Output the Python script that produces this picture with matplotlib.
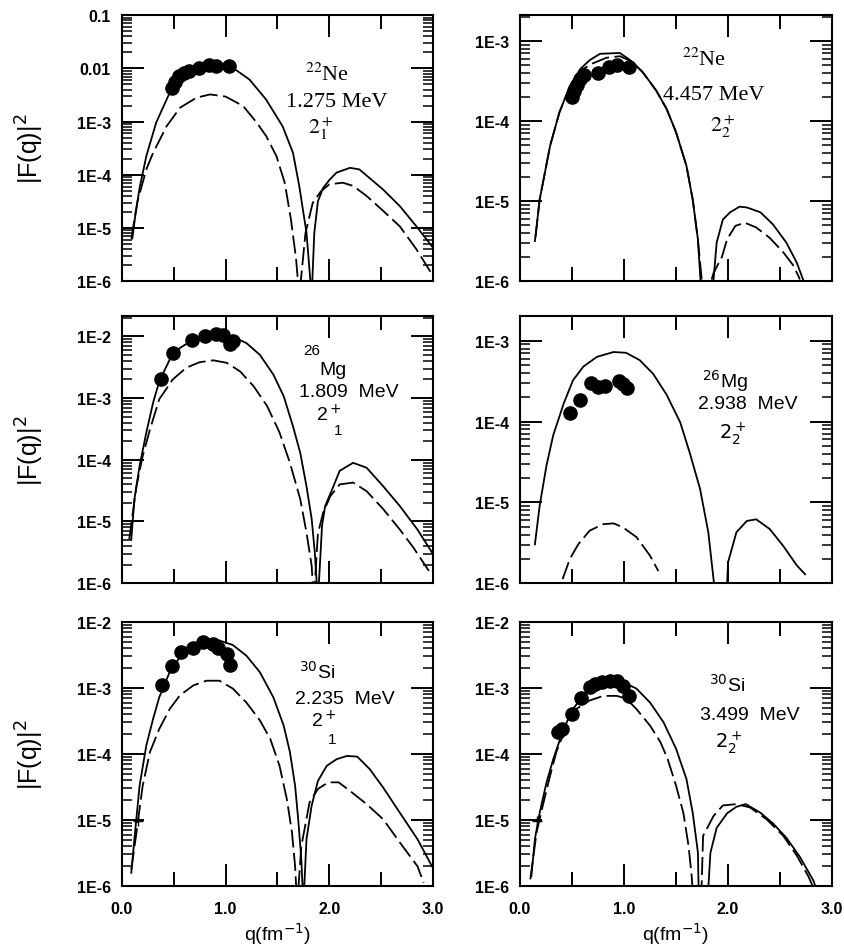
import numpy as np
import matplotlib
matplotlib.use("Agg")
import matplotlib.pyplot as plt
from matplotlib.ticker import LogLocator, NullFormatter, FixedLocator

# values; lg_* are log10 of |F(q)|^2
# --- 22Ne 1.275 MeV
q_ne1_sol = [0.10, 0.13, 0.17, 0.235, 0.33, 0.46, 0.59, 0.75, 0.91, 1.07, 1.23, 1.39, 1.55, 1.65,
             1.71, 1.78, 1.83, 1.855, 1.89, 1.94, 2.0, 2.07, 2.2, 2.29, 2.52, 2.68, 2.84, 3.0]
lg_ne1_sol = [-5.2, -4.75, -4.25, -3.65, -3.02, -2.46, -2.15, -1.99, -1.93, -1.99, -2.21, -2.585, -3.09, -3.59,
              -4.21, -5.09, -6.3, -5.1, -4.5, -4.25, -4.1, -3.96, -3.87, -3.90, -4.28, -4.59, -4.97, -5.37]
q_ne1_das = [0.09, 0.15, 0.235, 0.30, 0.43, 0.56, 0.72, 0.85, 1.0, 1.17, 1.30, 1.39, 1.49, 1.57, 1.63,
             1.68, 1.71, 1.77, 1.84, 1.92, 2.0, 2.13, 2.23, 2.36, 2.52, 2.68, 2.84, 2.98]
lg_ne1_das = [-5.2, -4.5, -3.9, -3.59, -3.09, -2.74, -2.55, -2.49, -2.53, -2.71, -3.02, -3.27, -3.65, -4.15, -4.84,
              -5.59, -6.3, -5.1, -4.53, -4.31, -4.18, -4.15, -4.21, -4.40, -4.68, -4.97, -5.40, -5.84]
q_ne1_exp = [0.48, 0.51, 0.55, 0.60, 0.65, 0.74, 0.84, 0.91, 1.03]
lg_ne1_exp = [-2.36, -2.26, -2.15, -2.09, -2.05, -1.99, -1.93, -1.95, -1.95]

# --- 22Ne 4.457 MeV
q_ne2_sol = [0.144, 0.19, 0.29, 0.38, 0.48, 0.58, 0.67, 0.77, 0.96, 1.06, 1.18, 1.31, 1.41, 1.50, 1.60, 1.66,
             1.71, 1.75, 1.84, 1.89, 1.95, 2.02, 2.11, 2.18, 2.31, 2.43, 2.56, 2.66, 2.72]
lg_ne2_sol = [-5.5, -4.98, -4.31, -3.89, -3.56, -3.35, -3.24, -3.16, -3.15, -3.24, -3.39, -3.62, -3.85, -4.14, -4.56, -4.98,
              -5.48, -6.3, -6.3, -5.52, -5.23, -5.14, -5.07, -5.08, -5.14, -5.29, -5.52, -5.77, -5.98]
q_ne2_das = [0.15, 0.19, 0.29, 0.38, 0.48, 0.58, 0.70, 0.83, 0.96, 1.08, 1.18, 1.31, 1.41, 1.50, 1.60, 1.66,
             1.71, 1.77, 1.86, 1.94, 1.99, 2.07, 2.16, 2.27, 2.40, 2.53, 2.63, 2.69]
lg_ne2_das = [-5.45, -4.98, -4.31, -3.89, -3.58, -3.37, -3.28, -3.21, -3.19, -3.26, -3.39, -3.62, -3.85, -4.14, -4.56, -4.98,
              -5.48, -6.3, -5.9, -5.7, -5.48, -5.31, -5.27, -5.33, -5.46, -5.64, -5.81, -5.98]
q_ne2_exp = [0.50, 0.52, 0.55, 0.58, 0.62, 0.75, 0.86, 0.93, 1.05]
lg_ne2_exp = [-3.70, -3.62, -3.55, -3.48, -3.42, -3.40, -3.32, -3.30, -3.32]

# --- 26Mg 1.809 MeV
q_mg1_sol = [0.09, 0.12, 0.17, 0.235, 0.30, 0.36, 0.46, 0.56, 0.69, 0.815, 0.94, 1.07, 1.20, 1.33, 1.46, 1.56,
             1.65, 1.72, 1.78, 1.83, 1.86, 1.89, 1.93, 1.96, 2.04, 2.10, 2.23, 2.36, 2.52, 2.68, 2.85, 2.99]
lg_mg1_sol = [-5.29, -4.64, -4.10, -3.56, -3.08, -2.73, -2.38, -2.19, -2.05, -1.99, -1.97, -2.01, -2.11, -2.30, -2.62, -2.97,
              -3.46, -3.89, -4.43, -4.96, -5.50, -6.3, -5.07, -4.75, -4.43, -4.18, -4.05, -4.13, -4.43, -4.75, -5.13, -5.50]
q_mg1_das = [0.07, 0.14, 0.20, 0.27, 0.36, 0.49, 0.62, 0.75, 0.88, 1.01, 1.14, 1.27, 1.40, 1.52, 1.62, 1.72,
             1.78, 1.83, 1.85, 1.89, 1.94, 2.01, 2.10, 2.23, 2.36, 2.52, 2.68, 2.81, 2.96]
lg_mg1_das = [-5.29, -4.43, -3.94, -3.51, -3.02, -2.70, -2.51, -2.42, -2.39, -2.43, -2.57, -2.81, -3.13, -3.56, -4.05, -4.64,
              -5.18, -5.72, -6.3, -5.2, -4.86, -4.59, -4.40, -4.37, -4.51, -4.80, -5.13, -5.42, -5.80]
q_mg1_exp = [0.38, 0.49, 0.68, 0.80, 0.91, 0.97, 1.04, 1.07]
lg_mg1_exp = [-2.69, -2.27, -2.06, -1.99, -1.97, -1.98, -2.12, -2.07]

# --- 26Mg 2.938 MeV
q_mg2_sol = [0.144, 0.19, 0.256, 0.32, 0.42, 0.51, 0.61, 0.74, 0.90, 1.02, 1.15, 1.28, 1.41, 1.54, 1.63, 1.73,
             1.81, 1.86, 1.89, 1.98, 2.0, 2.08, 2.18, 2.27, 2.40, 2.53, 2.66, 2.74]
lg_mg2_sol = [-5.52, -5.04, -4.54, -4.17, -3.78, -3.49, -3.32, -3.20, -3.14, -3.15, -3.24, -3.41, -3.67, -4.01, -4.38, -4.83,
              -5.37, -5.95, -6.3, -6.3, -5.74, -5.37, -5.23, -5.21, -5.33, -5.54, -5.78, -5.89]
q_mg2_das = [0.41, 0.48, 0.56, 0.67, 0.80, 0.90, 0.99, 1.12, 1.25, 1.33]
lg_mg2_das = [-5.95, -5.70, -5.52, -5.35, -5.27, -5.26, -5.31, -5.43, -5.66, -5.85]
q_mg2_exp = [0.48, 0.58, 0.68, 0.75, 0.82, 0.95, 0.99, 1.03]
lg_mg2_exp = [-3.90, -3.73, -3.52, -3.57, -3.56, -3.50, -3.53, -3.58]

# --- 30Si 2.235 MeV
q_si1_sol = [0.09, 0.12, 0.17, 0.235, 0.30, 0.36, 0.46, 0.56, 0.69, 0.815, 0.94, 1.07, 1.20, 1.33, 1.46, 1.56,
             1.62, 1.67, 1.70, 1.73, 1.75, 1.78, 1.83, 1.89, 1.975, 2.07, 2.17, 2.27, 2.39, 2.52, 2.68, 2.85, 2.99]
lg_si1_sol = [-5.80, -5.29, -4.48, -3.87, -3.47, -3.14, -2.76, -2.53, -2.35, -2.26, -2.28, -2.35, -2.51, -2.76, -3.14, -3.57,
              -3.97, -4.48, -4.99, -5.59, -6.3, -5.29, -4.78, -4.41, -4.18, -4.08, -4.03, -4.04, -4.23, -4.51, -4.89, -5.29, -5.70]
q_si1_das = [0.09, 0.14, 0.20, 0.27, 0.36, 0.46, 0.56, 0.69, 0.815, 0.94, 1.07, 1.20, 1.33, 1.43, 1.52, 1.59,
             1.64, 1.67, 1.69, 1.73, 1.81, 1.89, 1.99, 2.09, 2.20, 2.36, 2.52, 2.68, 2.85, 2.91]
lg_si1_das = [-5.75, -5.19, -4.48, -3.97, -3.62, -3.32, -3.11, -2.96, -2.89, -2.89, -3.01, -3.22, -3.49, -3.77, -4.18, -4.68,
              -5.19, -5.70, -6.3, -5.40, -4.73, -4.53, -4.43, -4.43, -4.56, -4.76, -4.99, -5.34, -5.70, -5.95]
q_si1_exp = [0.39, 0.48, 0.57, 0.69, 0.78, 0.88, 0.93, 1.01, 1.04]
lg_si1_exp = [-2.95, -2.67, -2.46, -2.39, -2.30, -2.34, -2.40, -2.48, -2.65]

# --- 30Si 3.499 MeV
q_si2_sol = [0.11, 0.144, 0.19, 0.256, 0.32, 0.42, 0.51, 0.61, 0.74, 0.865, 0.99, 1.12, 1.25, 1.38, 1.50, 1.60,
             1.66, 1.71, 1.72, 1.80, 1.83, 1.89, 1.99, 2.08, 2.17, 2.31, 2.43, 2.56, 2.69, 2.82, 2.86]
lg_si2_sol = [-5.85, -5.29, -4.89, -4.43, -4.08, -3.62, -3.32, -3.11, -2.95, -2.89, -2.91, -3.01, -3.22, -3.52, -3.92, -4.38,
              -4.89, -5.49, -6.3, -6.3, -5.5, -5.12, -4.90, -4.80, -4.76, -4.89, -5.05, -5.27, -5.56, -5.92, -6.1]
q_si2_das = [0.10, 0.16, 0.22, 0.29, 0.35, 0.45, 0.54, 0.67, 0.80, 0.93, 1.02, 1.12, 1.25, 1.35, 1.42, 1.50,
             1.57, 1.62, 1.65, 1.67, 1.74, 1.76, 1.86, 1.95, 2.08, 2.21, 2.37, 2.53, 2.66, 2.77, 2.84]
lg_si2_das = [-5.9, -5.19, -4.78, -4.33, -3.97, -3.57, -3.32, -3.19, -3.12, -3.12, -3.16, -3.32, -3.57, -3.82, -4.08, -4.48,
              -4.89, -5.39, -5.85, -6.3, -6.3, -5.24, -4.94, -4.78, -4.76, -4.81, -4.99, -5.24, -5.54, -5.85, -6.1]
q_si2_exp = [0.37, 0.40, 0.50, 0.59, 0.67, 0.72, 0.79, 0.87, 0.93, 0.99, 1.05]
lg_si2_exp = [-3.66, -3.62, -3.40, -3.15, -2.98, -2.94, -2.91, -2.90, -2.90, -2.97, -3.12]

# small crosses near 1E-5 in the bottom panels
q_cross = [0.155, 0.167]
lg_cross = [-5.01, -5.01]

panels = [
    dict(sol=(q_ne1_sol, lg_ne1_sol), das=(q_ne1_das, lg_ne1_das), exp=(q_ne1_exp, lg_ne1_exp),
         top=0.1, ticks=[1e-6, 1e-5, 1e-4, 1e-3, 1e-2, 1e-1],
         labels=['1E-6', '1E-5', '1E-4', '1E-3', '0.01', '0.1']),
    dict(sol=(q_ne2_sol, lg_ne2_sol), das=(q_ne2_das, lg_ne2_das), exp=(q_ne2_exp, lg_ne2_exp),
         top=2.1e-3, ticks=[1e-6, 1e-5, 1e-4, 1e-3], labels=['1E-6', '1E-5', '1E-4', '1E-3']),
    dict(sol=(q_mg1_sol, lg_mg1_sol), das=(q_mg1_das, lg_mg1_das), exp=(q_mg1_exp, lg_mg1_exp),
         top=2.1e-2, ticks=[1e-6, 1e-5, 1e-4, 1e-3, 1e-2], labels=['1E-6', '1E-5', '1E-4', '1E-3', '1E-2']),
    dict(sol=(q_mg2_sol, lg_mg2_sol), das=(q_mg2_das, lg_mg2_das), exp=(q_mg2_exp, lg_mg2_exp),
         top=2.0e-3, ticks=[1e-6, 1e-5, 1e-4, 1e-3], labels=['1E-6', '1E-5', '1E-4', '1E-3']),
    dict(sol=(q_si1_sol, lg_si1_sol), das=(q_si1_das, lg_si1_das), exp=(q_si1_exp, lg_si1_exp),
         top=1e-2, ticks=[1e-6, 1e-5, 1e-4, 1e-3, 1e-2], labels=['1E-6', '1E-5', '1E-4', '1E-3', '1E-2']),
    dict(sol=(q_si2_sol, lg_si2_sol), das=(q_si2_das, lg_si2_das), exp=(q_si2_exp, lg_si2_exp),
         top=1e-2, ticks=[1e-6, 1e-5, 1e-4, 1e-3, 1e-2], labels=['1E-6', '1E-5', '1E-4', '1E-3', '1E-2']),
]

rects = [[0.1445, 0.704, 0.3685, 0.279], [0.616, 0.704, 0.370, 0.279],
         [0.1445, 0.387, 0.3685, 0.280], [0.616, 0.387, 0.370, 0.280],
         [0.1445, 0.0693, 0.3685, 0.277], [0.616, 0.0693, 0.370, 0.277]]

fig = plt.figure(figsize=(8.44, 9.53), dpi=100)
tickfont = dict(family='Liberation Sans', weight='bold', size=11.5)
axs = []
for i, (p, r) in enumerate(zip(panels, rects)):
    ax = fig.add_axes(r)
    axs.append(ax)
    ax.set_yscale('log')
    q, lg = p['sol']
    ax.plot(q, 10.0 ** np.array(lg), color='black', lw=1.3)
    q, lg = p['das']
    ax.plot(q, 10.0 ** np.array(lg), color='black', lw=1.3, dashes=(10, 3))
    q, lg = p['exp']
    ax.plot(q, 10.0 ** np.array(lg), 'o', color='black', ms=9.5)
    if i >= 4:
        ax.plot(q_cross[i - 4], 10.0 ** lg_cross[i - 4], '+', color='black', ms=7, mew=1)
    ax.set_xlim(0, 3)
    ax.set_ylim(1e-6, p['top'])
    ax.xaxis.set_major_locator(FixedLocator([0, 1.0, 2.0, 3.0]))
    ax.xaxis.set_minor_locator(FixedLocator([0.5, 1.5, 2.5]))
    if i >= 4:
        ax.set_xticklabels(['0.0', '1.0', '2.0', '3.0'], **tickfont)
    else:
        ax.set_xticklabels([])
    ax.set_yticks(p['ticks'])
    ax.set_yticklabels(p['labels'], **tickfont)
    ax.yaxis.set_minor_locator(LogLocator(base=10, subs=np.arange(2, 10)))
    ax.yaxis.set_minor_formatter(NullFormatter())
    ax.tick_params(which='both', direction='in', top=True, right=True, width=1.4)
    ax.tick_params(which='major', length=15.5, pad=8)
    ax.tick_params(axis='x', which='major', pad=11)
    ax.tick_params(axis='y', which='minor', length=7.5, width=1.1)
    ax.tick_params(axis='x', which='minor', length=10)
    for s in ax.spines.values():
        s.set_linewidth(1.5)

serif = dict(family='Liberation Serif', size=16, ha='center', va='center', math_fontfamily='stix')
sans = dict(family='Liberation Sans', size=14, ha='center', va='center', math_fontfamily='dejavusans')

ax = axs[0]
ax.text(0.66, 0.78, r'$^{22}$Ne', transform=ax.transAxes, **serif)
ax.text(0.69, 0.675, '1.275 MeV', transform=ax.transAxes, **serif)
ax.text(0.64, 0.575, r'$2_1^+$', transform=ax.transAxes, **serif)

ax = axs[1]
ax.text(0.59, 0.835, r'$^{22}$Ne', transform=ax.transAxes, **serif)
ax.text(0.62, 0.70, '4.457 MeV', transform=ax.transAxes, **serif)
ax.text(0.65, 0.585, r'$2_2^+$', transform=ax.transAxes, **serif)

ax = axs[2]
ax.text(0.61, 0.875, '26', transform=ax.transAxes, **dict(sans, size=11))
ax.text(0.68, 0.80, 'Mg', transform=ax.transAxes, **sans)
ax.text(0.73, 0.72, '1.809  MeV', transform=ax.transAxes, **sans)
ax.text(0.665, 0.635, r'2$^+$', transform=ax.transAxes, **sans)
ax.text(0.695, 0.575, '1', transform=ax.transAxes, **dict(sans, size=11))

ax = axs[3]
ax.text(0.657, 0.76, r'$^{26}$Mg', transform=ax.transAxes, **sans)
ax.text(0.73, 0.675, '2.938  MeV', transform=ax.transAxes, **sans)
ax.text(0.68, 0.565, r'$2_2^+$', transform=ax.transAxes, **sans)

ax = axs[4]
ax.text(0.627, 0.815, r'$^{30}$Si', transform=ax.transAxes, **sans)
ax.text(0.717, 0.71, '2.235  MeV', transform=ax.transAxes, **sans)
ax.text(0.65, 0.63, r'2$^+$', transform=ax.transAxes, **sans)
ax.text(0.675, 0.557, '1', transform=ax.transAxes, **dict(sans, size=11))

ax = axs[5]
ax.text(0.663, 0.765, r'$^{30}$Si', transform=ax.transAxes, **sans)
ax.text(0.737, 0.65, '3.499  MeV', transform=ax.transAxes, **sans)
ax.text(0.667, 0.545, r'$2_2^+$', transform=ax.transAxes, **sans)

for yc in [0.8437, 0.527, 0.208]:
    fig.text(0.036, yc, r'|F(q)|$^2$', rotation=90, ha='center', va='center',
             family='Liberation Sans', size=18, math_fontfamily='dejavusans')
for xc in [0.3285, 0.801]:
    fig.text(xc, 0.02, r'q(fm$^{-1}$)', ha='center', va='center',
             family='Liberation Sans', size=14, math_fontfamily='dejavusans')

fig.savefig('out.png', dpi=100)
